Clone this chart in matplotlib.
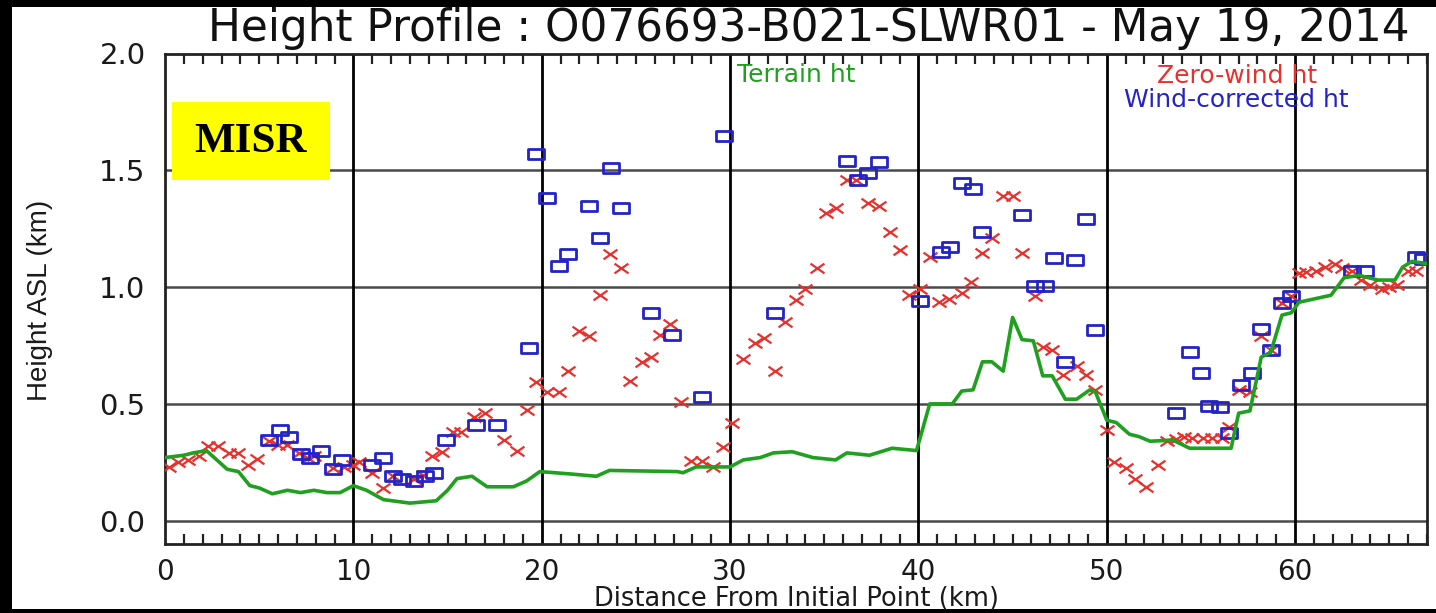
import matplotlib
matplotlib.use("Agg")
import matplotlib.pyplot as plt
from matplotlib.path import Path
from matplotlib.patches import Rectangle
from matplotlib.ticker import MultipleLocator

# terrain height along track (km)
terrain_x = [0, 0.5, 1.0, 1.5, 2.2, 3.3, 3.9, 4.5, 5.0, 5.7, 6.5, 7.2, 7.9, 8.6, 9.3,
             10.0, 10.7, 11.6, 13.0, 14.4, 15.0, 15.5, 16.3, 17.1, 18.5, 19.2, 19.9,
             21.5, 22.9, 23.6, 27.2, 27.5, 28.2, 30.0, 30.7, 31.6, 32.3, 33.3, 34.4,
             35.6, 36.2, 37.4, 38.6, 39.9, 40.6, 41.8, 42.3, 42.9, 43.4, 43.9, 44.5,
             45.0, 45.5, 46.1, 46.6, 47.1, 47.8, 48.4, 49.1, 49.4, 50.0, 50.5, 51.2,
             51.7, 52.3, 53.5, 54.4, 56.6, 57.0, 57.6, 58.2, 58.7, 59.3, 59.8, 60.2,
             61.9, 62.6, 63.4, 64.4, 65.3, 65.7, 66.2, 67.0]
terrain_h = [0.27, 0.275, 0.28, 0.29, 0.30, 0.22, 0.21, 0.15, 0.14, 0.115, 0.13, 0.12,
             0.13, 0.12, 0.12, 0.15, 0.13, 0.09, 0.075, 0.085, 0.13, 0.18, 0.19, 0.145,
             0.145, 0.17, 0.21, 0.20, 0.19, 0.215, 0.21, 0.205, 0.23, 0.23, 0.26, 0.27,
             0.29, 0.295, 0.27, 0.26, 0.29, 0.28, 0.31, 0.30, 0.50, 0.50, 0.555, 0.56,
             0.68, 0.68, 0.64, 0.87, 0.775, 0.77, 0.62, 0.62, 0.52, 0.52, 0.56, 0.55,
             0.43, 0.42, 0.37, 0.36, 0.34, 0.345, 0.31, 0.31, 0.46, 0.47, 0.70, 0.72,
             0.88, 0.89, 0.935, 0.965, 1.04, 1.05, 1.03, 1.03, 1.085, 1.11, 1.10]

# zero-wind heights
zw_x = [0.2, 0.7, 1.2, 1.8, 2.3, 2.8, 3.4, 3.9, 4.4, 4.9, 5.5, 6.0, 6.5, 7.1, 7.6, 7.9,
        8.9, 9.5, 10.0, 10.3, 11.0, 11.6, 12.1, 13.2, 13.7, 14.2, 14.7, 15.3, 15.7,
        16.4, 17.0, 18.0, 18.7, 19.2, 19.7, 20.3, 20.9, 21.4, 22.0, 22.5, 23.1, 23.6,
        24.2, 24.7, 25.3, 25.8, 26.3, 26.8, 27.4, 27.9, 28.5, 29.1, 29.6, 30.1, 30.7,
        31.3, 31.8, 32.4, 32.9, 33.5, 34.0, 34.6, 35.1, 35.6, 36.2, 36.7, 37.3, 37.9,
        38.5, 39.0, 39.5, 40.1, 40.6, 41.1, 41.6, 42.3, 42.8, 43.4, 43.9, 44.5, 45.0,
        45.5, 46.2, 46.6, 47.1, 47.7, 48.4, 48.9, 49.4, 50.0, 50.4, 51.0, 51.5, 52.1,
        52.7, 53.2, 53.7, 54.1, 54.5, 55.1, 55.6, 56.1, 56.5, 57.0, 57.6, 58.2, 58.7,
        59.3, 59.8, 60.2, 60.6, 61.1, 61.6, 62.1, 62.5, 63.0, 63.5, 64.0, 64.6, 65.0,
        65.4, 66.0, 66.4]
zw_h = [0.23, 0.25, 0.26, 0.275, 0.32, 0.32, 0.29, 0.29, 0.24, 0.265, 0.34, 0.325,
        0.325, 0.29, 0.27, 0.275, 0.225, 0.23, 0.24, 0.25, 0.205, 0.14, 0.19, 0.18,
        0.195, 0.275, 0.295, 0.38, 0.38, 0.445, 0.46, 0.345, 0.30, 0.475, 0.595, 0.55,
        0.55, 0.64, 0.81, 0.79, 0.965, 1.14, 1.08, 0.60, 0.68, 0.70, 0.795, 0.84, 0.51,
        0.255, 0.255, 0.23, 0.315, 0.42, 0.69, 0.76, 0.78, 0.64, 0.85, 0.945, 0.99,
        1.08, 1.315, 1.34, 1.46, 1.46, 1.36, 1.345, 1.235, 1.16, 0.965, 0.99, 1.13,
        0.935, 0.95, 0.975, 1.02, 1.145, 1.21, 1.39, 1.39, 1.145, 0.96, 0.745, 0.73,
        0.625, 0.66, 0.625, 0.56, 0.39, 0.25, 0.225, 0.18, 0.145, 0.24, 0.34, 0.35,
        0.36, 0.355, 0.355, 0.355, 0.355, 0.40, 0.56, 0.55, 0.79, 0.73, 0.93, 0.96,
        1.06, 1.065, 1.07, 1.085, 1.10, 1.08, 1.07, 1.03, 1.01, 0.99, 1.00, 1.01,
        1.07, 1.07]

# wind-corrected heights
wc_x = [5.5, 6.1, 6.6, 7.2, 7.7, 8.3, 8.9, 9.4, 11.0, 11.6, 12.1, 12.6, 13.2, 13.8,
        14.3, 14.9, 16.5, 17.6, 19.3, 19.7, 20.3, 20.9, 21.4, 22.5, 23.1, 23.7, 24.2,
        25.8, 26.9, 28.5, 29.7, 32.4, 36.2, 36.8, 37.3, 37.9, 40.1, 41.2, 41.7, 42.3,
        42.9, 43.4, 45.5, 46.2, 46.7, 47.2, 47.8, 48.3, 48.9, 49.4, 53.7, 54.4, 55.0,
        55.4, 56.0, 56.5, 57.1, 57.7, 58.2, 58.7, 59.3, 59.8, 63.0, 63.7, 66.4, 66.8]
wc_h = [0.345, 0.39, 0.36, 0.285, 0.27, 0.30, 0.22, 0.26, 0.24, 0.27, 0.19, 0.18,
        0.17, 0.19, 0.205, 0.345, 0.41, 0.41, 0.74, 1.57, 1.38, 1.09, 1.14, 1.345,
        1.21, 1.51, 1.34, 0.89, 0.795, 0.53, 1.645, 0.89, 1.54, 1.46, 1.49, 1.535,
        0.94, 1.15, 1.17, 1.445, 1.42, 1.235, 1.31, 1.005, 1.005, 1.125, 0.68, 1.115,
        1.29, 0.815, 0.46, 0.72, 0.63, 0.49, 0.485, 0.375, 0.58, 0.63, 0.82, 0.73,
        0.93, 0.96, 1.07, 1.07, 1.13, 1.12]

x_ticks = [0, 10, 20, 30, 40, 50, 60]
y_ticks = [0.0, 0.5, 1.0, 1.5, 2.0]

# markers are drawn wider than tall, like the stretched original
x_mark = Path([(-1, -0.7), (1, 0.7), (-1, 0.7), (1, -0.7)],
              [Path.MOVETO, Path.LINETO, Path.MOVETO, Path.LINETO])
box_mark = Path([(-1, -0.62), (1, -0.62), (1, 0.62), (-1, 0.62), (-1, -0.62)],
                [Path.MOVETO, Path.LINETO, Path.LINETO, Path.LINETO, Path.CLOSEPOLY])

fig = plt.figure(figsize=(14.36, 6.13), dpi=100, facecolor="black")
# white page inside the black frame
fig.patches.append(Rectangle((12 / 1436, 4 / 613), 1 - 12 / 1436, 1 - 11 / 613,
                             transform=fig.transFigure, facecolor="white",
                             edgecolor="none", zorder=-10))

ax = fig.add_axes([165 / 1436, 1 - 544 / 613, (1427 - 165) / 1436, (544 - 53.5) / 613])
ax.set_xlim(0, 67)
ax.set_ylim(-0.1, 2.0)

for yv in y_ticks[:-1]:
    ax.axhline(yv, color="#4a4a4a", lw=1.8, zorder=1)
for xv in x_ticks[1:]:
    ax.axvline(xv, color="black", lw=2, zorder=1)

ax.plot(zw_x, zw_h, ls="none", marker=x_mark, ms=10, mew=1.6, color="#e8302c", zorder=3)
ax.plot(wc_x, wc_h, ls="none", marker=box_mark, ms=11, mew=2, mfc="none",
        mec="#2323c8", zorder=4)
ax.plot(terrain_x, terrain_h, color="#1fa01f", lw=2.6, zorder=5)

ax.set_xticks(x_ticks)
ax.set_yticks(y_ticks)
ax.set_yticklabels([f"{v:.1f}" for v in y_ticks])
ax.xaxis.set_minor_locator(MultipleLocator(1))
ax.tick_params(axis="x", which="major", length=0, pad=10, labelsize=20, labelcolor="#1a1a1a")
ax.tick_params(axis="x", which="minor", direction="in", top=True, bottom=True,
               length=7, width=1.6, color="#222222")
ax.tick_params(axis="y", which="major", length=0, pad=14, labelsize=21, labelcolor="#1a1a1a")
for s in ax.spines.values():
    s.set_linewidth(2)
    s.set_color("#222222")

ax.set_xlabel("Distance From Initial Point (km)", fontsize=18.5, labelpad=0, color="#1a1a1a")
fig.text(40 / 1436, 1 - 300 / 613, "Height ASL (km)", rotation=90, ha="center", va="center",
         fontsize=20, family=["Liberation Sans Narrow", "Liberation Sans"], color="#1a1a1a")
fig.text(809 / 1436, 1 - 29 / 613, "Height Profile : O076693-B021-SLWR01 - May 19, 2014",
         ha="center", va="center", fontsize=31.5, color="#111111")

ax.text(33.5, 1.91, "Terrain ht", color="#1fa01f", fontsize=18, ha="center", va="center")
ax.text(56.9, 1.905, "Zero-wind ht", color="#e8302c", fontsize=18, ha="center", va="center")
ax.text(56.9, 1.80, "Wind-corrected ht", color="#2323c8", fontsize=18, ha="center", va="center")

# MISR label box
fig.patches.append(Rectangle((172 / 1436, 1 - 180 / 613), 158 / 1436, 78 / 613,
                             transform=fig.transFigure, facecolor="#ffff00",
                             edgecolor="none", zorder=10))
fig.text(251 / 1436, 1 - 142 / 613, "MISR", ha="center", va="center", fontsize=31,
         fontweight="bold", family=["Liberation Serif", "DejaVu Serif"], color="black",
         zorder=11)

fig.savefig("out.png", dpi=100, facecolor=fig.get_facecolor())
